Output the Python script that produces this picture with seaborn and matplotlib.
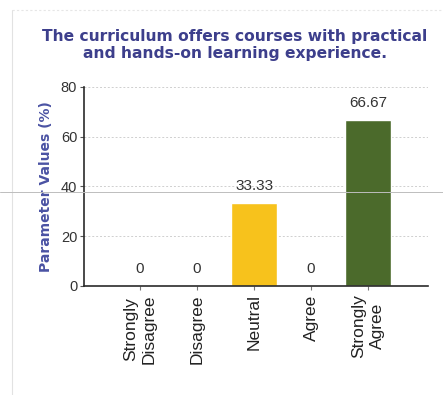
import matplotlib
matplotlib.use("Agg")
import matplotlib.pyplot as plt
from matplotlib.lines import Line2D
import seaborn as sns
import pandas as pd

categories = ["Strongly\nDisagree", "Disagree", "Neutral", "Agree", "Strongly\nAgree"]
values = [0, 0, 33.33, 0, 66.67]
bar_colors = ["#f4c01e", "#f4c01e", "#f7c21c", "#f4c01e", "#4b6a2b"]
value_labels = ["0", "0", "33.33", "0", "66.67"]
y_ticks = [0, 20, 40, 60, 80]

sns.set_style("white")
plt.rcParams["font.family"] = ["Liberation Sans", "DejaVu Sans"]

df = pd.DataFrame({"cat": categories, "val": values})

fig = plt.figure(figsize=(4.43, 3.95), dpi=100)
ax = fig.add_axes([0.19, 0.276, 0.776, 0.504])

sns.barplot(data=df, x="cat", y="val", hue="cat", palette=bar_colors,
            legend=False, width=0.8, ax=ax, saturation=1)

ax.set_ylim(0, 80)
ax.set_xlim(-0.98, 5.05)
ax.set_yticks(y_ticks)
ax.set_yticklabels([str(t) for t in y_ticks], fontsize=10.5, color="#333333")
ax.set_xticks(range(len(categories)))
ax.set_xticklabels(categories, rotation=90, fontsize=12.5, color="#222222",
                   ha="center", multialignment="center", linespacing=1.3)

ax.yaxis.grid(True, linestyle=(0, (2, 2)), color="#cfcfcf", linewidth=0.7)
ax.set_axisbelow(True)
for side in ("top", "right"):
    ax.spines[side].set_visible(False)
for side in ("left", "bottom"):
    ax.spines[side].set_color("#2a2a2a")
    ax.spines[side].set_linewidth(1.2)
ax.tick_params(axis="y", length=3, color="#555555", left=True, pad=2)
ax.tick_params(axis="x", length=3, color="#777777", bottom=True, pad=3)

for i, (v, lab) in enumerate(zip(values, value_labels)):
    ax.text(i, v + 4, lab, ha="center", va="bottom", fontsize=11, color="#333333")

ax.set_xlabel("")
ax.set_ylabel("Parameter Values (%)", fontsize=10, fontweight="bold",
              color="#4a52a3", family="DejaVu Sans", labelpad=6)

fig.text(0.53, 0.886, "The curriculum offers courses with practical\nand hands-on learning experience.",
         ha="center", va="center", fontsize=11.2, fontweight="bold",
         color="#3d3f8c", family="DejaVu Sans", linespacing=1.15)

# page frame and rule
fig.add_artist(Line2D([0.027, 0.027], [0.0, 0.975], color="#e2e2e2", linewidth=0.8))
fig.add_artist(Line2D([0.027, 1.0], [0.975, 0.975], color="#e6e6e6", linewidth=0.8,
                      linestyle=(0, (2, 2))))
fig.add_artist(Line2D([0.0, 1.0], [0.514, 0.514], color="#bdbdbd", linewidth=0.7))

fig.savefig("out.png", dpi=100, facecolor="white")
